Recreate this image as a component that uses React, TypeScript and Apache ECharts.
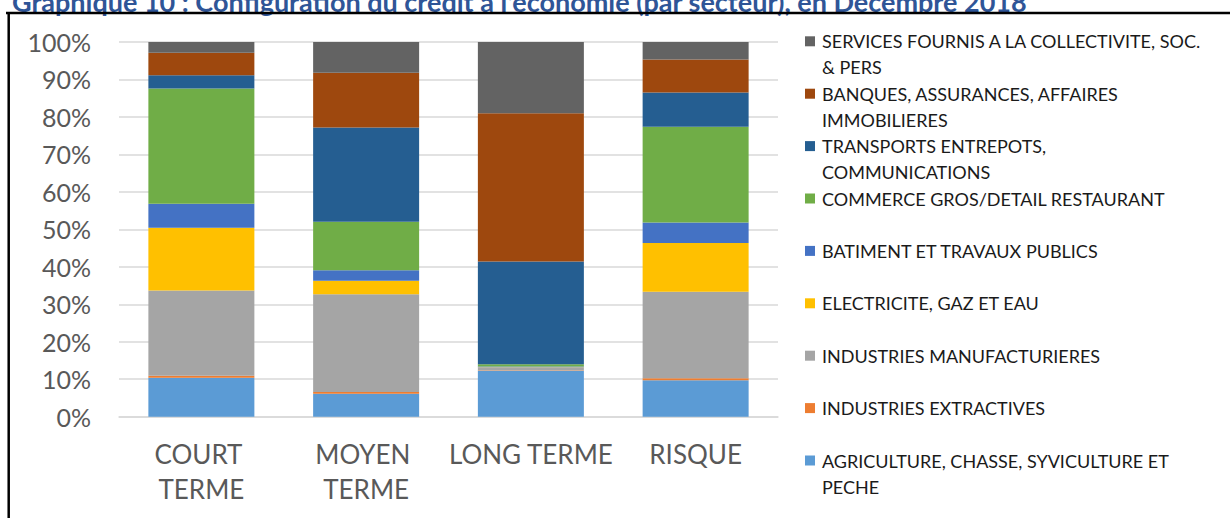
import React, { useEffect, useRef } from 'react';
import * as echarts from 'echarts';

const titleText = "Graphique 10 : Configuration du crédit à l'économie (par secteur), en Décembre 2018";

const categories = ['COURT TERME', 'MOYEN TERME', 'LONG TERME', 'RISQUE'];

// bottom to top of each stacked bar
const sectors = [
  'AGRICULTURE, CHASSE, SYVICULTURE ET PECHE',
  'INDUSTRIES EXTRACTIVES',
  'INDUSTRIES MANUFACTURIERES',
  'ELECTRICITE, GAZ ET EAU',
  'BATIMENT ET TRAVAUX PUBLICS',
  'COMMERCE GROS/DETAIL RESTAURANT',
  'TRANSPORTS ENTREPOTS, COMMUNICATIONS',
  'BANQUES, ASSURANCES, AFFAIRES IMMOBILIERES',
  'SERVICES FOURNIS A LA COLLECTIVITE, SOC. & PERS',
];

const legendLabels = [
  'AGRICULTURE, CHASSE, SYVICULTURE ET\nPECHE',
  'INDUSTRIES EXTRACTIVES',
  'INDUSTRIES MANUFACTURIERES',
  'ELECTRICITE, GAZ ET EAU',
  'BATIMENT ET TRAVAUX PUBLICS',
  'COMMERCE GROS/DETAIL RESTAURANT',
  'TRANSPORTS ENTREPOTS,\nCOMMUNICATIONS',
  'BANQUES, ASSURANCES, AFFAIRES\nIMMOBILIERES',
  'SERVICES FOURNIS A LA COLLECTIVITE, SOC.\n& PERS',
];

const colors = ['#5B9BD5', '#ED7D31', '#A5A5A5', '#FFC000', '#4472C4', '#70AD47', '#255E91', '#9E480E', '#636363'];

// values in % (Court terme, Moyen terme, Long terme, Risque)
const agriculture = [10.4, 6.1, 12.2, 9.7];
const extractives = [0.5, 0.5, 0.1, 0.55];
const manufacturieres = [22.8, 26.1, 0.8, 23.1];
const electricite = [16.7, 3.6, 0.1, 13.0];
const batiment = [6.4, 2.8, 0.2, 5.5];
const commerce = [30.8, 12.9, 0.6, 25.5];
const transports = [3.5, 25.2, 27.4, 9.2];
const banques = [6.0, 14.6, 39.6, 8.8];
const services = [2.9, 8.2, 19.0, 4.65];

const seriesValues = [agriculture, extractives, manufacturieres, electricite, batiment, commerce, transports, banques, services];

const yTicks = { min: 0, max: 100, interval: 10 };

export default function App() {
  const ref = useRef<HTMLDivElement>(null);
  useEffect(() => {
    document.body.style.margin = '0';
    const chart = echarts.init(ref.current as HTMLDivElement, null, { renderer: 'svg' });
    const n = sectors.length;
    const graphics: any[] = [
      {
        type: 'text',
        x: 12,
        y: 15,
        style: {
          text: titleText,
          fontFamily: 'Lato',
          fontWeight: 'bold',
          fontSize: 27,
          fill: '#2F5597',
          verticalAlign: 'bottom',
        },
      },
      { type: 'line', shape: { x1: 6, y1: 13, x2: 1230, y2: 13 }, style: { stroke: '#000', lineWidth: 2.5 } },
      { type: 'line', shape: { x1: 8.7, y1: 12, x2: 8.7, y2: 518 }, style: { stroke: '#000', lineWidth: 2.5 } },
    ];
    for (let k = 0; k < n; k++) {
      const i = n - 1 - k;
      const cy = 41.3 + k * 52.4;
      graphics.push({
        type: 'rect',
        shape: { x: 805, y: cy - 5, width: 10, height: 10 },
        style: { fill: colors[i] },
      });
      graphics.push({
        type: 'text',
        x: 822,
        y: cy - 13,
        style: {
          text: legendLabels[i],
          fontFamily: 'Lato',
          fontSize: 18,
          lineHeight: 26,
          fill: '#1a1a1a',
          verticalAlign: 'top',
        },
      });
    }
    chart.setOption({
      animation: false,
      grid: { left: 119, right: 452, top: 42, bottom: 101.3, containLabel: false },
      xAxis: {
        type: 'category',
        data: categories,
        axisLine: { lineStyle: { color: '#D9D9D9', width: 1.5 } },
        axisTick: { show: false },
        axisLabel: {
          interval: 0,
          color: '#595959',
          fontFamily: 'Lato',
          fontSize: 26,
          lineHeight: 35,
          margin: 20,
          width: 168,
          overflow: 'break',
        },
      },
      yAxis: {
        type: 'value',
        min: yTicks.min,
        max: yTicks.max,
        interval: yTicks.interval,
        axisLine: { show: false },
        axisTick: { show: false },
        splitLine: { lineStyle: { color: '#D9D9D9', width: 1.5 } },
        axisLabel: {
          formatter: '{value}%',
          color: '#595959',
          fontFamily: 'Lato',
          fontSize: 25,
          margin: 28,
        },
      },
      series: sectors.map((name, i) => ({
        name,
        type: 'bar',
        stack: 'total',
        barWidth: 106,
        data: seriesValues[i],
        itemStyle: { color: colors[i] },
      })),
      graphic: graphics,
    });
    return () => chart.dispose();
  }, []);
  return <div ref={ref} style={{ width: 1230, height: 518 }} />;
}
